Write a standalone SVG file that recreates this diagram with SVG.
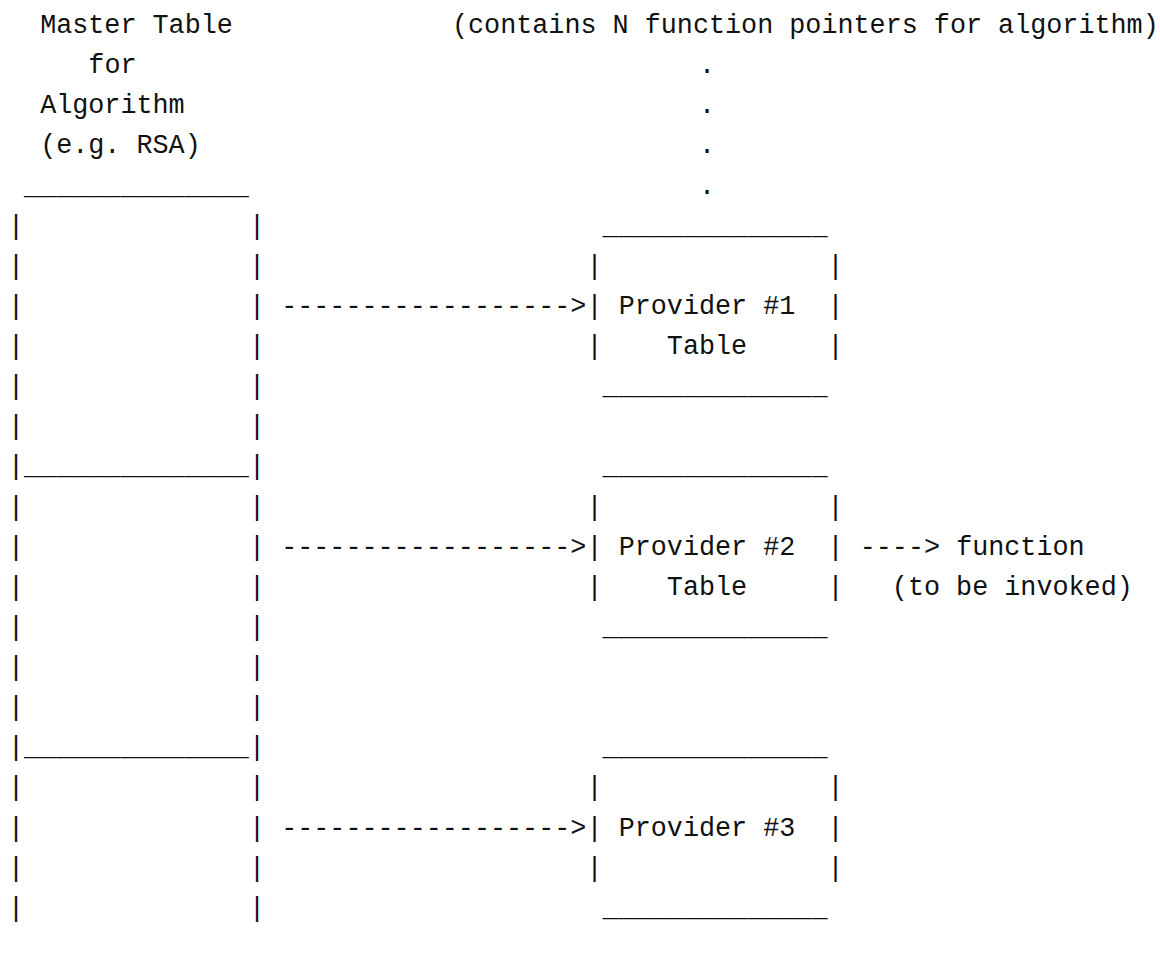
<svg xmlns="http://www.w3.org/2000/svg" width="1160" height="953" viewBox="0 0 1160 953" xml:space="preserve">
<style>
text { font-family: "Liberation Mono", "Courier New", monospace; font-size: 26.78px; fill: #111; white-space: pre; }
</style>
<rect x="0" y="0" width="1160" height="953" fill="#fff"/>
<g id="master-table">
<text x="40.14" y="33">Master Table</text>
<text x="88.35" y="73.13">for</text>
<text x="40.14" y="113.25">Algorithm</text>
<text x="40.14" y="153.38">(e.g. RSA)</text>
<text x="24.07" y="193.5">______________</text>
<text x="8" y="233.63">|              |</text>
<text x="8" y="273.75">|              |</text>
<text x="8" y="313.88">|              |</text>
<text x="8" y="354">|              |</text>
<text x="8" y="394.13">|              |</text>
<text x="8" y="434.25">|              |</text>
<text x="8" y="474.38">|______________|</text>
<text x="8" y="514.5">|              |</text>
<text x="8" y="554.63">|              |</text>
<text x="8" y="594.75">|              |</text>
<text x="8" y="634.88">|              |</text>
<text x="8" y="675">|              |</text>
<text x="8" y="715.13">|              |</text>
<text x="8" y="755.25">|______________|</text>
<text x="8" y="795.38">|              |</text>
<text x="8" y="835.5">|              |</text>
<text x="8" y="875.63">|              |</text>
<text x="8" y="915.75">|              |</text>
</g>
<g id="note-pointers">
<text x="452" y="33">(contains N function pointers for algorithm)</text>
<text x="699.01" y="73.13">.</text>
<text x="699.01" y="113.25">.</text>
<text x="699.01" y="153.38">.</text>
<text x="699.01" y="193.5">.</text>
</g>
<g id="provider-1">
<text x="602.59" y="233.63">______________</text>
<text x="586.52" y="273.75">|              |</text>
<text x="586.52" y="313.88">| Provider #1  |</text>
<text x="586.52" y="354">|    Table     |</text>
<text x="602.59" y="394.13">______________</text>
</g>
<g id="provider-2">
<text x="602.59" y="474.38">______________</text>
<text x="586.52" y="514.5">|              |</text>
<text x="586.52" y="554.63">| Provider #2  |</text>
<text x="586.52" y="594.75">|    Table     |</text>
<text x="602.59" y="634.88">______________</text>
</g>
<g id="provider-3">
<text x="602.59" y="755.25">______________</text>
<text x="586.52" y="795.38">|              |</text>
<text x="586.52" y="835.5">| Provider #3  |</text>
<text x="586.52" y="875.63">|              |</text>
<text x="602.59" y="915.75">______________</text>
</g>
<g id="function">
<text x="956.13" y="554.63">function</text>
<text x="891.85" y="594.75">(to be invoked)</text>
</g>
<g id="connectors">
<text x="281.19" y="313.88">------------------&gt;</text>
<text x="281.19" y="554.63">------------------&gt;</text>
<text x="281.19" y="835.5">------------------&gt;</text>
<text x="859.71" y="554.63">----&gt;</text>
</g>
</svg>
